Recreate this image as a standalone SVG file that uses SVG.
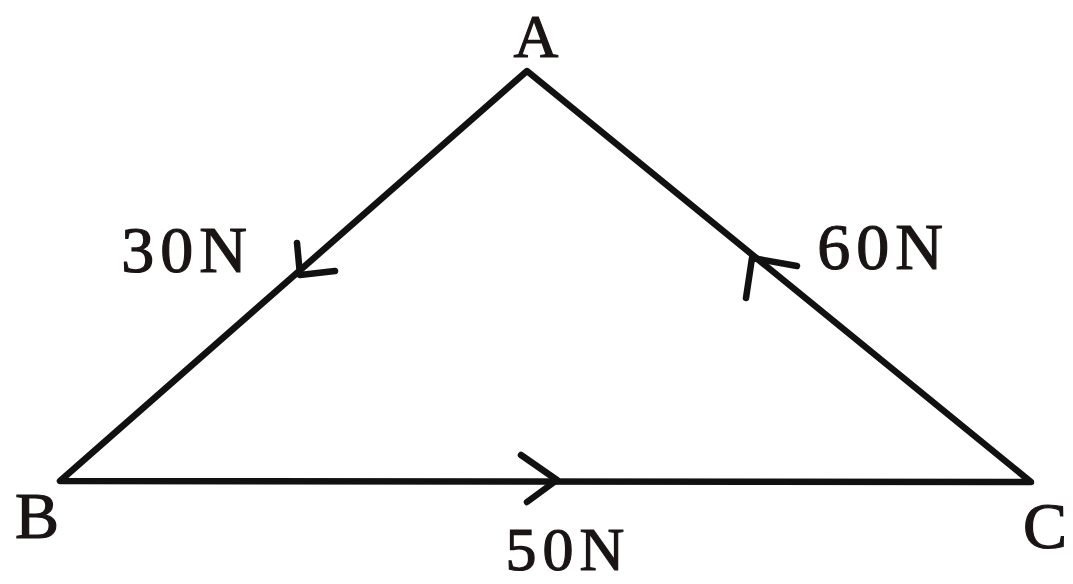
<svg xmlns="http://www.w3.org/2000/svg" width="1073" height="584" viewBox="0 0 1073 584">
<style>
.edge{stroke:#111;stroke-width:6.5;fill:none;stroke-linecap:round;stroke-linejoin:round}
.lbl{font-family:"Liberation Serif",serif;font-size:66px;fill:#1a1414;stroke:#1a1414;stroke-width:1.2;text-anchor:middle}
.num{letter-spacing:6px}
</style>
<rect width="1073" height="584" fill="#fff"/>
<g id="connectors">
<path class="edge" d="M527,71 L60,481 L1031,482 Z"/>
<path class="edge" d="M297,243 L300,275 L335,271"/>
<path class="edge" d="M746,298 L752,258 L797,266"/>
<path class="edge" d="M521,455 L557,480 L527,502"/>
</g>
<g id="A"><text class="lbl" x="536" y="57" style="font-size:62px">A</text></g>
<g id="B"><text class="lbl" x="37" y="538">B</text></g>
<g id="C"><text class="lbl" x="1045" y="548">C</text></g>
<g id="label30"><text class="lbl num" x="187" y="272">30N</text></g>
<g id="label60"><text class="lbl num" x="883" y="269">60N</text></g>
<g id="label50"><text class="lbl num" x="568" y="570" style="font-size:62px">50N</text></g>
</svg>
